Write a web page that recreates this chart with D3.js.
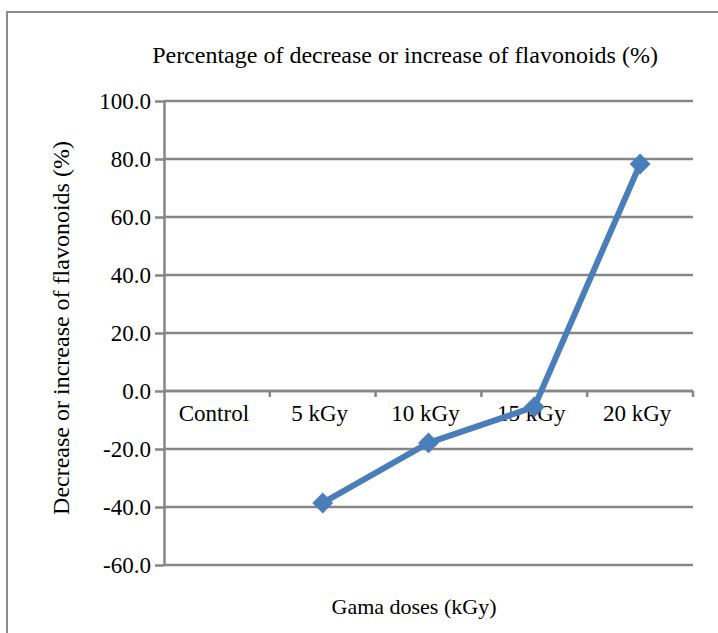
<!DOCTYPE html>
<html><head><meta charset="utf-8">
<script src="https://cdn.jsdelivr.net/npm/d3@7"></script>
<style>body{margin:0;background:#fff;} text{font-family:"Liberation Serif","Times New Roman",serif;fill:#000;}</style>
</head><body>
<svg id="c" width="718" height="633"></svg>
<script>
const categories = ["Control", "5 kGy", "10 kGy", "15 kGy", "20 kGy"];
const values = [null, -38.6, -17.9, -5.5, 78.3];
const yTicks = [-60, -40, -20, 0, 20, 40, 60, 80, 100];
const titleText = "Percentage of decrease or increase of flavonoids (%)";
const xTitle = "Gama doses (kGy)";
const yTitle = "Decrease or increase of flavonoids (%)";

const svg = d3.select("#c");
const m = {left:164, right:693, top:101, bottom:565};
const x = d3.scaleBand().domain(categories).range([m.left, m.right]);
const y = d3.scaleLinear().domain([-60, 100]).range([m.bottom, m.top]);
const grey = "#868686";
const serif = '"Liberation Serif","Times New Roman",serif';

svg.append("rect").attr("x",7).attr("y",12).attr("width",730).attr("height",640)
  .attr("fill","none").attr("stroke","#8c8c8c").attr("stroke-width",2);

svg.append("text").attr("x",405).attr("y",63).attr("text-anchor","middle")
  .style("font-size","24px").text(titleText);

// gridlines
svg.append("g").selectAll("line").data(yTicks).join("line")
  .attr("x1",m.left).attr("x2",m.right).attr("y1",d=>y(d)).attr("y2",d=>y(d))
  .attr("stroke",grey).attr("stroke-width",2.5);

// y axis
const fmt = d => d.toFixed(1);
const ya = d3.axisLeft(y).tickValues(yTicks).tickFormat(fmt).tickSize(9).tickSizeOuter(0).tickPadding(4);
const yg = svg.append("g").attr("transform",`translate(${m.left},0)`).call(ya)
  .attr("font-family", serif).attr("font-size", 23);
yg.select(".domain").attr("stroke",grey).attr("stroke-width",2.5);
yg.selectAll(".tick line").attr("stroke",grey).attr("stroke-width",2.5);
yg.selectAll(".tick text").attr("fill","#000");

// x axis at zero
const y0 = y(0);
svg.append("line").attr("x1",m.left).attr("x2",m.right).attr("y1",y0).attr("y2",y0)
  .attr("stroke",grey).attr("stroke-width",2.5);
const bounds = categories.map(c=>x(c)).concat([m.right]);
svg.append("g").selectAll("line").data(bounds.slice(1)).join("line")
  .attr("x1",d=>d).attr("x2",d=>d).attr("y1",y0).attr("y2",y0+6)
  .attr("stroke",grey).attr("stroke-width",2.5);
svg.append("g").selectAll("text").data(categories).join("text")
  .attr("x",d=>x(d)+x.bandwidth()/2 - 3).attr("y",y0+30).attr("text-anchor","middle")
  .style("font-size","23px").text(d=>d);

// line
const pts = categories.map((c,i)=>({c, v:values[i]})).filter(d=>d.v!==null);
const line = d3.line().x(d=>x(d.c)+x.bandwidth()/2).y(d=>y(d.v));
svg.append("path").datum(pts).attr("d",line).attr("fill","none")
  .attr("stroke","#4a7ebb").attr("stroke-width",6).attr("stroke-linejoin","round");
svg.append("g").selectAll("path").data(pts).join("path")
  .attr("transform",d=>`translate(${x(d.c)+x.bandwidth()/2},${y(d.v)}) rotate(45)`)
  .attr("d", d3.symbol().type(d3.symbolSquare).size(190))
  .attr("fill","#4a7ebb").attr("stroke","#4a7ebb").attr("stroke-width",1);

svg.append("text").attr("x",414).attr("y",614).attr("text-anchor","middle")
  .style("font-size","22px").text(xTitle);
svg.append("text").attr("transform","translate(69,328) rotate(-90)").attr("text-anchor","middle")
  .style("font-size","24px").text(yTitle);
</script>
</body></html>
